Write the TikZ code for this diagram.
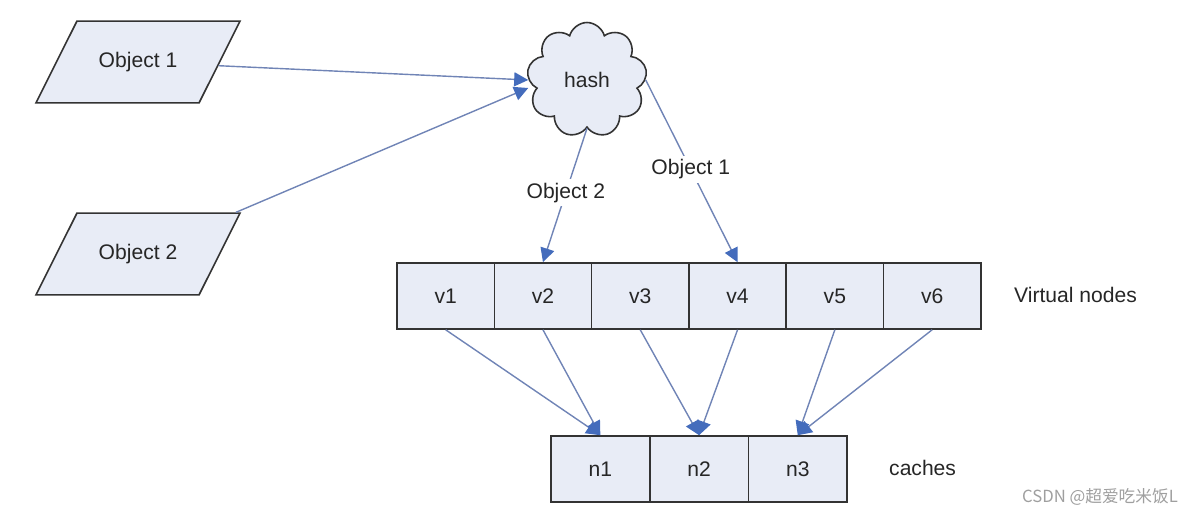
\documentclass[tikz,border=0pt]{standalone}
\usepackage{fontspec}
\setmainfont{Liberation Sans}
\newfontfamily\cjk{Noto Sans CJK SC}
\usetikzlibrary{shapes.geometric,shapes.symbols,arrows.meta}
\definecolor{boxfill}{RGB}{232,236,246}
\definecolor{linkline}{RGB}{112,132,182}
\definecolor{linktip}{RGB}{68,108,188}

\begin{document}
\begin{tikzpicture}[x=0.02cm,y=-0.02cm,font=\fontsize{12}{14}\selectfont,text=black!85,
  objbox/.style={draw=black!80,line width=0.9pt,fill=boxfill,trapezium,
    trapezium left angle=63.4,trapezium right angle=116.6,trapezium stretches body,
    text height=9pt,text depth=3pt,inner ysep=17.25pt,inner xsep=4pt,minimum width=4.08cm},
  cellbox/.style={draw=black!80,line width=0.9pt,fill=boxfill,minimum height=1.32cm,inner sep=0pt},
  link/.style={draw=linkline,line width=0.8pt,-{Triangle[length=8pt,width=8pt,color=linktip]}},
  tag/.style={fill=white,inner sep=2pt}]
\useasboundingbox (0,0) rectangle (1200,516);
\node[objbox] (obj1) at (138,62) {Object 1};
\node[objbox] (obj2) at (138,254) {Object 2};
\node[cloud,cloud puffs=9,draw=black!80,line width=0.9pt,fill=boxfill,
  minimum width=2.4cm,minimum height=2.3cm,inner sep=0pt] (hash) at (587,80) {hash};
\foreach \i in {1,...,6}
  \node[cellbox,minimum width=1.946cm] (v\i) at ({397+97.3*(\i-0.5)},296) {v\i};
\foreach \i in {1,2,3}
  \node[cellbox,minimum width=1.974cm] (n\i) at ({551+98.7*(\i-0.5)},469) {n\i};
\node[anchor=west] (vlabel) at (1008,295) {Virtual nodes};
\node[anchor=west] (nlabel) at (883,468) {caches};
\node[text=gray!75,font=\cjk\fontsize{9.5}{11}\selectfont] (mark) at (1100,497) {CSDN @超爱吃米饭L};
% objects into the hash
\draw[link] (obj1) -- (hash.west);
\draw[link] (obj2) -- ([yshift=-0.16cm]hash.west);
\draw[link] (hash.south) -- node[tag,pos=0.48] (t2) {Object 2} (v2.north);
\draw[link] (hash.east) -- node[tag,pos=0.49] (t1) {Object 1} (v4.north);
% virtual nodes onto caches
\draw[link] (v1.south) -- (n1.north);
\draw[link] (v2.south) -- (n1.north);
\draw[link] (v3.south) -- (n2.north);
\draw[link] (v4.south) -- (n2.north);
\draw[link] (v5.south) -- (n3.north);
\draw[link] (v6.south) -- (n3.north);
\end{tikzpicture}
\end{document}
